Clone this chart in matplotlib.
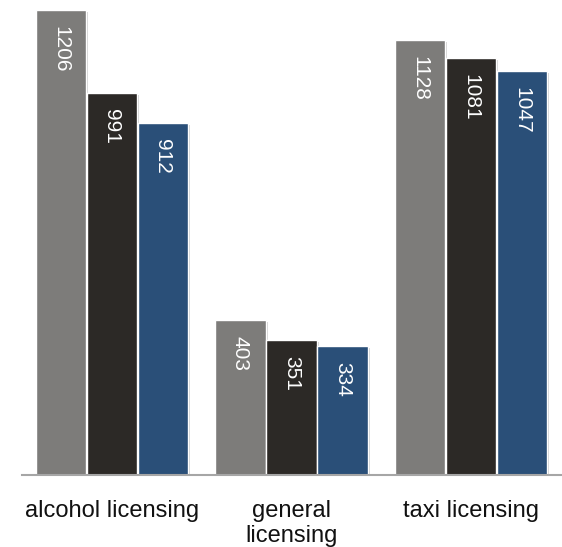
import numpy as np
import matplotlib
matplotlib.use("Agg")
import matplotlib.pyplot as plt
import matplotlib.patheffects as pe

categories = ["alcohol licensing", "general\nlicensing", "taxi licensing"]
series_a = [1206, 403, 1128]
series_b = [991, 351, 1081]
series_c = [912, 334, 1047]
colors = ["#7d7c7a", "#2c2926", "#2a4f78"]

plt.rcParams["font.family"] = ["Liberation Sans", "DejaVu Sans"]

fig = plt.figure(figsize=(5.62, 5.47), dpi=100)
ax = fig.add_axes([22 / 562, 72 / 547, 539 / 562, 475 / 547])

x = np.arange(len(categories))
width = 0.279
step = 0.284
shadow = [pe.SimplePatchShadow(offset=(1.5, -1.5), shadow_rgbFace="#000000", alpha=0.18), pe.Normal()]

for i, (vals, col) in enumerate(zip([series_a, series_b, series_c], colors)):
    bars = ax.bar(x + (i - 1) * step, vals, width=width, color=col,
                  edgecolor="white", linewidth=1.0, zorder=2)
    for b in bars:
        b.set_path_effects(shadow)
    for xi, v in zip(x + (i - 1) * step, vals):
        ax.annotate(str(v), xy=(xi, v), xytext=(0, -11.5), textcoords="offset points",
                    rotation=-90, ha="center", va="top", color="white",
                    fontsize=15, zorder=3)

ax.set_xlim(-0.5, len(categories) - 0.5)
ax.set_ylim(0, 1232)
ax.set_xticks(x)
ax.set_xticklabels(categories, fontsize=17, color="#111111", linespacing=1.2)
ax.tick_params(axis="x", length=0, pad=18)
ax.set_yticks([])
for s in ["left", "right", "top"]:
    ax.spines[s].set_visible(False)
ax.spines["bottom"].set_color("#a6a6a6")
ax.spines["bottom"].set_linewidth(1.5)
ax.set_facecolor("white")

fig.savefig("out.png", dpi=100, facecolor="white")
